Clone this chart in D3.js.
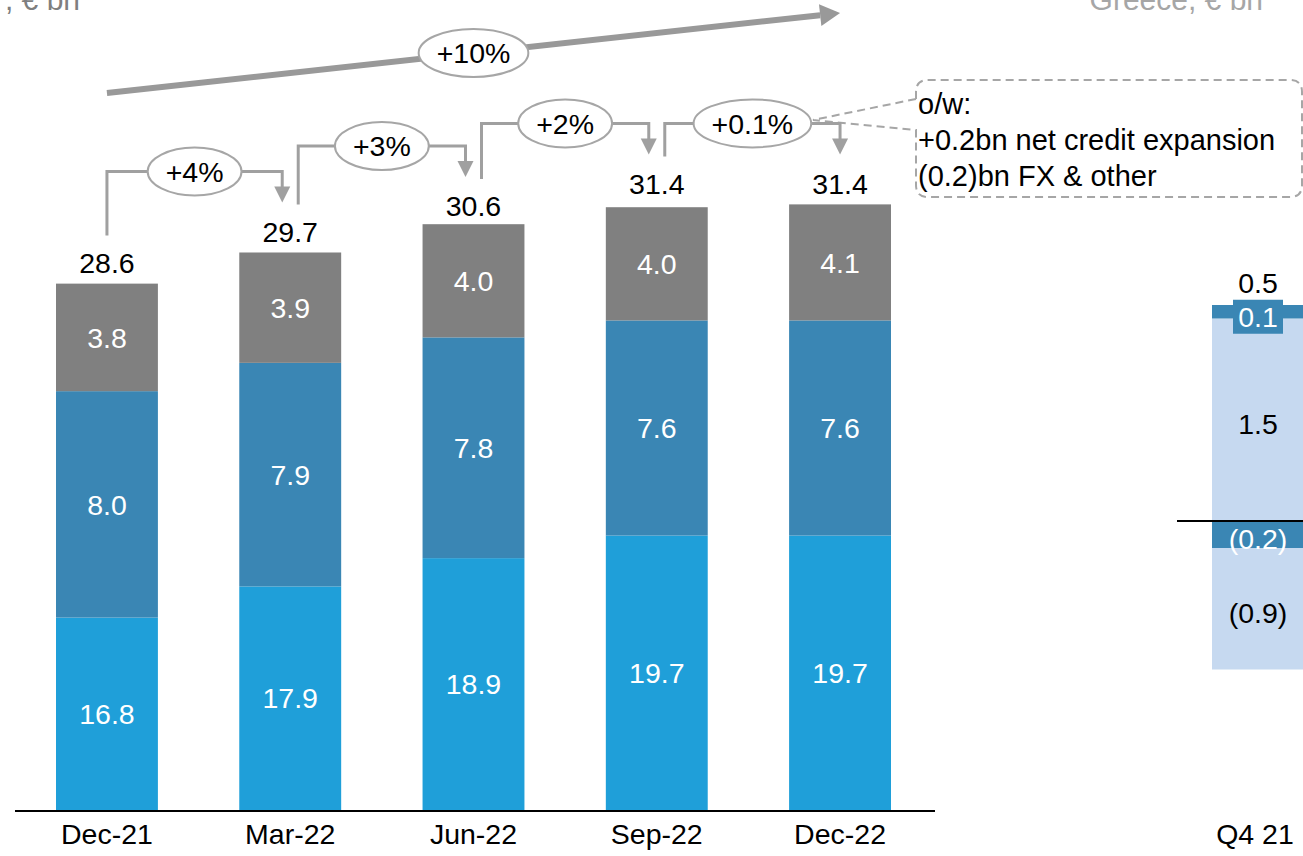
<!DOCTYPE html>
<html>
<head>
<meta charset="utf-8">
<script src="https://cdn.jsdelivr.net/npm/d3@7"></script>
<style>
  body { margin: 0; background: #fff; }
  svg { display: block; font-family: "Liberation Sans", Arial, sans-serif; }
</style>
</head>
<body>
<div id="chart"></div>
<script>
// data
const quarters = ['Dec-21', 'Mar-22', 'Jun-22', 'Sep-22', 'Dec-22'];
const lightSeries = [16.8, 17.9, 18.9, 19.7, 19.7];
const midSeries = [8.0, 7.9, 7.8, 7.6, 7.6];
const greySeries = [3.8, 3.9, 4.0, 4.0, 4.1];
const totals = [28.6, 29.7, 30.6, 31.4, 31.4];
const growth = ['+4%', '+3%', '+2%', '+0.1%'];
const overallGrowth = '+10%';
const noteLines = ['o/w:', '+0.2bn net credit expansion', '(0.2)bn FX & other'];

const sideCategory = ['Q4 21'];
const sidePos = [1.5, 0.1];      // light, dark
const sideNeg = [-0.2, -0.9];    // dark, light
const sideNet = 0.5;

const w = 1303;
const h = 856;
const base = 810;
const fs = 28.5;

const colours = { light: '#1f9fd9', mid: '#3a86b4', grey: '#808080', pale: '#c6d9f0', arrow: '#a0a0a0' };

const svg = d3.select('#chart').append('svg')
  .attr('width', w)
  .attr('height', h);

// scales
const x = d3.scaleBand()
  .domain(quarters)
  .range([56, 891])
  .paddingInner(0.444)
  .paddingOuter(0);

const y = d3.scaleLinear()
  .domain([10, 30])
  .range([base, base - 20 * 28.3]);

const xR = d3.scaleBand()
  .domain(sideCategory)
  .range([1212, 1314]);

const yR = d3.scaleLinear()
  .domain([0, 1])
  .range([521, 521 - 135]);

const fmt = d3.format('.1f');
const neg = v => `(${fmt(Math.abs(v))})`;

// titles (cropped at top in the source)
svg.append('text')
  .attr('x', 80).attr('y', 10)
  .attr('text-anchor', 'end')
  .attr('font-size', 30)
  .attr('fill', '#7f7f7f')
  .text(', € bn');

svg.append('text')
  .attr('x', 1263).attr('y', 10)
  .attr('text-anchor', 'end')
  .attr('font-size', 30)
  .attr('fill', '#a6a6a6')
  .text('Greece, € bn');

// stacked bars
const rows = quarters.map((q, i) => ({ q, light: lightSeries[i], mid: midSeries[i], grey: greySeries[i] }));
const keys = ['light', 'mid', 'grey'];
const stack = d3.stack().keys(keys)(rows);

const layers = svg.selectAll('.layer')
  .data(stack)
  .enter()
  .append('g')
  .attr('class', 'layer')
  .attr('fill', d => colours[d.key]);

layers.selectAll('rect')
  .data(d => d)
  .enter()
  .append('rect')
  .attr('x', d => x(d.data.q))
  .attr('y', d => y(d[1]))
  .attr('width', x.bandwidth())
  .attr('height', d => Math.max(0, y(Math.max(d[0], 10)) - y(d[1])));

layers.selectAll('text')
  .data(d => d.map(s => ({ s, key: d.key })))
  .enter()
  .append('text')
  .attr('x', d => x(d.s.data.q) + x.bandwidth() / 2)
  .attr('y', d => (y(Math.max(d.s[0], 10)) + y(d.s[1])) / 2)
  .attr('dy', '0.36em')
  .attr('text-anchor', 'middle')
  .attr('font-size', fs)
  .attr('fill', '#fff')
  .text(d => fmt(d.s.data[d.key]));

// totals
svg.selectAll('.total')
  .data(totals)
  .enter()
  .append('text')
  .attr('class', 'total')
  .attr('x', (d, i) => x(quarters[i]) + x.bandwidth() / 2)
  .attr('y', d => y(d) - 21)
  .attr('dy', '0.36em')
  .attr('text-anchor', 'middle')
  .attr('font-size', fs)
  .attr('fill', '#000')
  .text(d => fmt(d));

// x axis
const xAxis = d3.axisBottom(x).tickSize(0).tickPadding(14);
const gx = svg.append('g')
  .attr('transform', `translate(0, ${base})`)
  .call(xAxis);
gx.select('.domain').remove();
gx.selectAll('text').attr('font-size', fs).attr('fill', '#000').attr('font-family', null);

svg.append('line')
  .attr('x1', 15).attr('x2', 935)
  .attr('y1', base + 1).attr('y2', base + 1)
  .attr('stroke', '#000')
  .attr('stroke-width', 2);

// arrow helper
function arrowHead(g, tipX, tipY, dx, dy, len, half, fill) {
  const n = Math.hypot(dx, dy);
  const ux = dx / n, uy = dy / n;
  const bx = tipX - ux * len, by = tipY - uy * len;
  g.append('path')
    .attr('d', `M${tipX},${tipY}L${bx - uy * half},${by + ux * half}L${bx + uy * half},${by - ux * half}Z`)
    .attr('fill', fill);
}

function pill(g, cx, cy, label) {
  const grp = g.append('g');
  const el = grp.append('ellipse')
    .attr('cx', cx).attr('cy', cy)
    .attr('ry', 24)
    .attr('fill', '#fff')
    .attr('stroke', '#a6a6a6')
    .attr('stroke-width', 2);
  const t = grp.append('text')
    .attr('x', cx).attr('y', cy)
    .attr('dy', '0.36em')
    .attr('text-anchor', 'middle')
    .attr('font-size', fs)
    .attr('fill', '#000')
    .text(label);
  const tw = t.node().getComputedTextLength();
  el.attr('rx', tw / 2 + 18);
}

// overall growth arrow
const ann = svg.append('g');
const bx0 = x(quarters[0]) + x.bandwidth() / 2;
const bx1 = x(quarters[4]) + x.bandwidth() / 2;
const by0 = 93, by1 = 13;
const bigLen = 20;
const bdx = bx1 - bx0, bdy = by1 - by0;
const bn = Math.hypot(bdx, bdy);
ann.append('line')
  .attr('x1', bx0).attr('y1', by0)
  .attr('x2', bx1 - bdx / bn * bigLen).attr('y2', by1 - bdy / bn * bigLen)
  .attr('stroke', '#999')
  .attr('stroke-width', 6);
arrowHead(ann, bx1, by1, bdx, bdy, bigLen, 11, '#999');
pill(ann, (bx0 + bx1) / 2, (by0 + by1) / 2, overallGrowth);

// quarter-on-quarter brackets
growth.forEach((g, i) => {
  const cA = x(quarters[i]) + x.bandwidth() / 2;
  const cB = x(quarters[i + 1]) + x.bandwidth() / 2;
  const xs = i === 0 ? cA : cA + 8;
  const xe = i === growth.length - 1 ? cB : cB - 8;
  const ys = y(totals[i]) - 48;
  const ye = y(totals[i + 1]) - 50;
  const level = Math.min(ys, ye) - 31;
  ann.append('path')
    .attr('d', `M${xs},${ys}V${level}H${xe}V${ye - 14}`)
    .attr('fill', 'none')
    .attr('stroke', colours.arrow)
    .attr('stroke-width', 3);
  arrowHead(ann, xe, ye, 0, 1, 16, 8, colours.arrow);
  pill(ann, (xs + xe) / 2, level, g);
});

// callout box with note
const tipX = 813, tipY = 120;
const bxL = 916, bxR = 1302, bxT = 80, bxB = 197, r = 12;
ann.insert('path', ':first-child')
  .attr('d', `M${bxL},99 V${bxT + r} Q${bxL},${bxT} ${bxL + r},${bxT} H${bxR - r} Q${bxR},${bxT} ${bxR},${bxT + r}` +
    ` V${bxB - r} Q${bxR},${bxB} ${bxR - r},${bxB} H${bxL + r} Q${bxL},${bxB} ${bxL},${bxB - r} V130 L${tipX},${tipY} Z`)
  .attr('fill', '#fff')
  .attr('stroke', '#a6a6a6')
  .attr('stroke-width', 2)
  .attr('stroke-dasharray', '8,5');

ann.selectAll('.note')
  .data(noteLines)
  .enter()
  .append('text')
  .attr('class', 'note')
  .attr('x', 918)
  .attr('y', (d, i) => 104 + i * 36)
  .attr('dy', '0.36em')
  .attr('font-size', 29)
  .attr('fill', '#000')
  .text(d => d);

// side panel (Q4 21)
const side = svg.append('g');
const sx = xR(sideCategory[0]);
const sw = xR.bandwidth();
const sideSegs = [
  { v0: 0, v1: sidePos[0], fill: colours.pale, label: fmt(sidePos[0]), col: '#000' },
  { v0: sidePos[0], v1: sidePos[0] + sidePos[1], fill: colours.mid, label: fmt(sidePos[1]), col: '#fff', box: true },
  { v0: sideNeg[0], v1: 0, fill: colours.mid, label: neg(sideNeg[0]), col: '#fff' },
  { v0: sideNeg[0] + sideNeg[1], v1: sideNeg[0], fill: colours.pale, label: neg(sideNeg[1]), col: '#000' }
];

side.selectAll('rect.seg')
  .data(sideSegs)
  .enter()
  .append('rect')
  .attr('class', 'seg')
  .attr('x', sx)
  .attr('y', d => yR(d.v1))
  .attr('width', sw)
  .attr('height', d => yR(d.v0) - yR(d.v1))
  .attr('fill', d => d.fill);

sideSegs.forEach(d => {
  const cy = d.box ? (yR(d.v0) + yR(d.v1)) / 2 + 5 : (yR(d.v0) + yR(d.v1)) / 2 + 4;
  const cx = sx + sw / 2 - 5;
  if (d.box) {
    side.append('rect')
      .attr('x', cx - 25).attr('y', cy - 17)
      .attr('width', 50).attr('height', 34)
      .attr('fill', d.fill);
  }
  side.append('text')
    .attr('x', cx).attr('y', cy)
    .attr('dy', '0.36em')
    .attr('text-anchor', 'middle')
    .attr('font-size', fs)
    .attr('fill', d.col)
    .text(d.label);
});

side.append('text')
  .attr('x', sx + sw / 2 - 5)
  .attr('y', yR(sidePos[0] + sidePos[1]) - 22)
  .attr('dy', '0.36em')
  .attr('text-anchor', 'middle')
  .attr('font-size', fs)
  .attr('fill', '#000')
  .text(fmt(sideNet));

side.append('line')
  .attr('x1', 1177).attr('x2', 1303)
  .attr('y1', yR(0)).attr('y2', yR(0))
  .attr('stroke', '#000')
  .attr('stroke-width', 2);

const gxR = svg.append('g')
  .attr('transform', `translate(-8, ${base})`)
  .call(d3.axisBottom(xR).tickSize(0).tickPadding(14));
gxR.select('.domain').remove();
gxR.selectAll('text').attr('font-size', fs).attr('fill', '#000').attr('font-family', null);
</script>
</body>
</html>
